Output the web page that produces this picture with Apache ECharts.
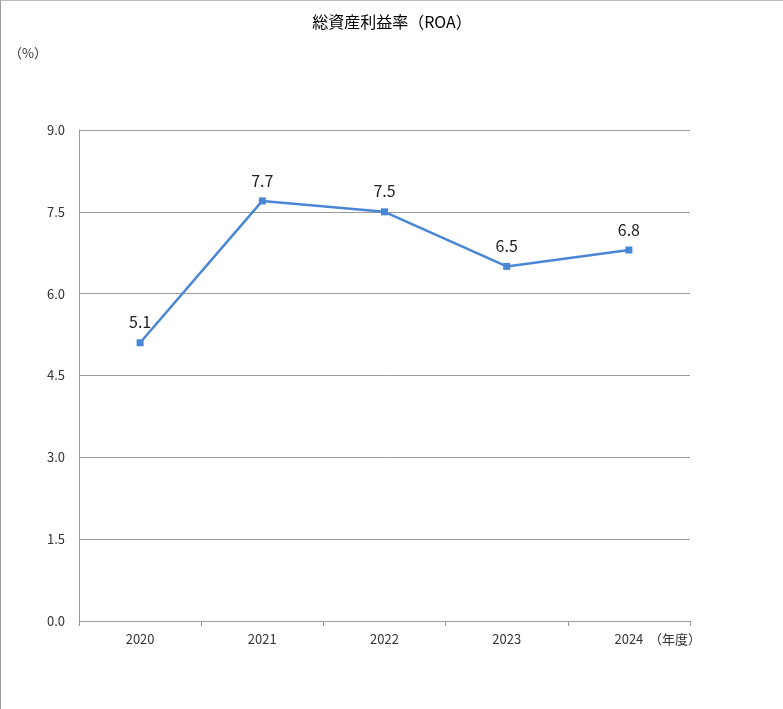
<!DOCTYPE html>
<html><head><meta charset="utf-8">
<script src="https://cdn.jsdelivr.net/npm/echarts@6/dist/echarts.min.js"></script>
<style>html,body{margin:0;padding:0;background:#fff}#c{width:783px;height:709px;box-sizing:border-box;border-left:1px solid #999;border-top:1px solid #bbb}</style>
</head><body><div id="c"></div>
<script>
const categories=['2020','2021','2022','2023','2024'];
const roa=[5.1,7.7,7.5,6.5,6.8];
const chart=echarts.init(document.getElementById('c'));
const font='"Noto Sans CJK JP","Noto Sans",sans-serif';
chart.setOption({
  animation:false,
  title:{text:'総資産利益率（ROA）',left:'center',top:8,textStyle:{fontFamily:font,fontSize:16,fontWeight:'normal',color:'#000'}},
  grid:{left:78,right:93,top:129,bottom:88},
  graphic:[
    {type:'text',left:8,top:46,style:{text:'（%）',font:'13px '+font,fill:'#333'}},
    {type:'text',left:648,top:632,style:{text:'（年度）',font:'13px '+font,fill:'#333'}}
  ],
  xAxis:{type:'category',data:categories,boundaryGap:true,
    axisLine:{lineStyle:{color:'#999'}},axisTick:{show:true,length:5,lineStyle:{color:'#999'}},
    axisLabel:{color:'#333',fontSize:13,fontFamily:font,margin:12}},
  yAxis:{type:'value',min:0,max:9,interval:1.5,
    axisLine:{show:true,lineStyle:{color:'#999'}},
    splitLine:{lineStyle:{color:'#999'}},
    axisLabel:{color:'#333',fontSize:13,fontFamily:font,formatter:v=>v.toFixed(1),margin:14}},
  series:[{type:'line',data:roa,symbol:'rect',symbolSize:7,
    lineStyle:{color:'#4a86d6',width:2.5},itemStyle:{color:'#4a86d6'},
    label:{show:true,position:'top',distance:9,fontSize:16,fontFamily:font,color:'#222',formatter:p=>p.value.toFixed(1)}}]
});
</script></body></html>
